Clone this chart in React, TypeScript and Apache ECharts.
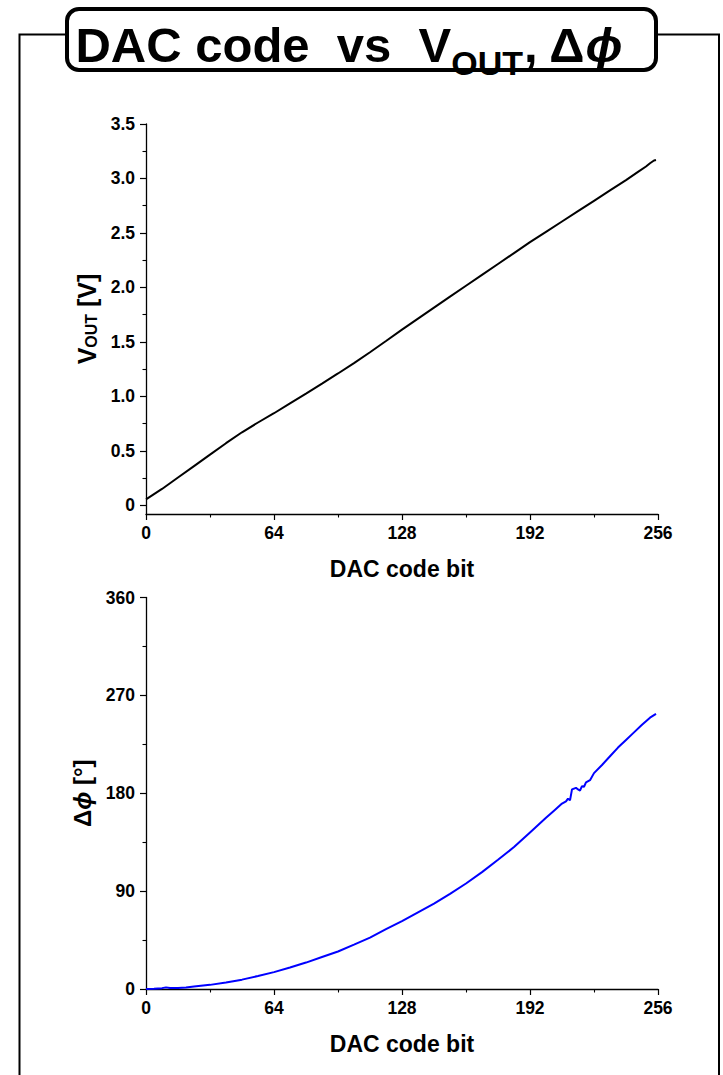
import React, { useEffect, useRef } from 'react';
import * as echarts from 'echarts';

// ---------- data ----------
const xTicks = [0, 64, 128, 192, 256];

const vCodes = [0, 8, 16, 24, 32, 40, 48, 56, 64, 72, 80, 88, 96, 104, 112, 120, 128, 136, 144, 152, 160, 168, 176, 184, 192, 200, 208, 216, 224, 232, 240, 246, 250, 252, 254, 255];
const vValues = [0.055, 0.15, 0.255, 0.36, 0.465, 0.57, 0.67, 0.76, 0.845, 0.935, 1.025, 1.117, 1.21, 1.305, 1.405, 1.508, 1.612, 1.714, 1.815, 1.915, 2.015, 2.115, 2.215, 2.315, 2.415, 2.51, 2.605, 2.7, 2.795, 2.89, 2.985, 3.06, 3.11, 3.14, 3.165, 3.17];
const vTicks = [0, 0.5, 1.0, 1.5, 2.0, 2.5, 3.0, 3.5];
const vMinorTicks = [0.25, 0.75, 1.25, 1.75, 2.25, 2.75, 3.25];

const phiCodes = [0, 4, 8, 10, 12, 16, 20, 24, 32, 40, 48, 56, 64, 72, 80, 88, 96, 104, 112, 120, 128, 136, 144, 152, 160, 168, 176, 184, 192, 200, 204, 208, 210, 211, 212, 213, 215, 216, 217, 218, 219, 220, 222, 224, 228, 232, 236, 240, 244, 248, 252, 255];
const phiValues = [0, 0.3, 0.8, 1.5, 1.0, 1.0, 1.4, 2.2, 3.8, 6.0, 8.6, 12.0, 15.5, 19.8, 24.3, 29.4, 34.5, 40.8, 47.2, 55, 62.5, 70.5, 78.5, 87.5, 97, 107.5, 118.8, 130.5, 144, 157.5, 164, 170.5, 172.5, 175, 173.5, 183.5, 185, 183.5, 182.5, 186.5, 186, 190, 192, 198.5, 206, 214, 222, 229, 236, 243, 249.5, 253];
const phiTicks = [0, 90, 180, 270, 360];

// ---------- styles ----------
const FONT = '"Liberation Sans", Arial, Helvetica, sans-serif';
const BLACK = '#000';

const tickLabel = {
  fontFamily: FONT,
  fontWeight: 'bold' as const,
  fontSize: 17.5,
  color: BLACK,
};

const axisLine = { show: true, onZero: false, lineStyle: { color: BLACK, width: 1.3 } };

function xAxisFor(gridIndex: number) {
  return {
    type: 'value',
    gridIndex,
    min: xTicks[0],
    max: xTicks[xTicks.length - 1],
    interval: xTicks[1] - xTicks[0],
    axisLine,
    axisTick: { show: true, length: 6, lineStyle: { color: BLACK, width: 1.2 } },
    minorTick: { show: true, splitNumber: 2, length: 3.5, lineStyle: { color: BLACK, width: 1.1 } },
    splitLine: { show: false },
    minorSplitLine: { show: false },
    axisLabel: { ...tickLabel, margin: 10 },
    name: 'DAC code bit',
    nameLocation: 'middle',
    nameGap: 43,
    nameTextStyle: { fontFamily: FONT, fontWeight: 'bold', fontSize: 23, color: BLACK },
  };
}

export default function App() {
  const ref = useRef<HTMLDivElement>(null);

  useEffect(() => {
    document.body.style.margin = '0';
    if (!ref.current) return;
    const chart = echarts.init(ref.current, null, { renderer: 'svg' });

    const vData = vCodes.map((c, i) => [c, vValues[i]]);
    const phiData = phiCodes.map((c, i) => [c, phiValues[i]]);

    const option: any = {
      animation: false,
      backgroundColor: '#fff',
      grid: [
        { left: 146, top: 124, width: 512, height: 390, containLabel: false, outerBoundsMode: 'none' },
        { left: 146, top: 597.5, width: 512, height: 391.5, containLabel: false, outerBoundsMode: 'none' },
      ],
      xAxis: [xAxisFor(0), xAxisFor(1)],
      yAxis: [
        {
          type: 'value',
          gridIndex: 0,
          position: 'left',
          min: -0.08,
          max: 3.5,
          axisLine,
          axisTick: { show: true, length: 6, customValues: vTicks, lineStyle: { color: BLACK, width: 1.2 } },
          axisLabel: {
            ...tickLabel,
            margin: 11,
            customValues: vTicks,
            formatter: (v: number) => (v === 0 ? '0' : v.toFixed(1)),
          },
          splitLine: { show: false },
          name: '{a|V}{s|OUT}{a| [V]}',
          nameLocation: 'middle',
          nameGap: 46,
          nameRotate: 90,
          nameTextStyle: {
            rich: {
              a: { fontFamily: FONT, fontWeight: 'bold', fontSize: 25, lineHeight: 25, color: BLACK, verticalAlign: 'top' },
              s: { fontFamily: FONT, fontWeight: 'bold', fontSize: 16, lineHeight: 25, color: BLACK, verticalAlign: 'bottom' },
            },
          },
        },
        {
          type: 'value',
          gridIndex: 0,
          position: 'left',
          offset: 0,
          min: -0.08,
          max: 3.5,
          axisLine: { show: false, onZero: false },
          axisTick: { show: true, length: 3.5, customValues: vMinorTicks, lineStyle: { color: BLACK, width: 1.1 } },
          axisLabel: { show: false },
          splitLine: { show: false },
        },
        {
          type: 'value',
          gridIndex: 1,
          position: 'left',
          min: phiTicks[0],
          max: phiTicks[phiTicks.length - 1],
          interval: phiTicks[1] - phiTicks[0],
          axisLine,
          axisTick: { show: true, length: 6, lineStyle: { color: BLACK, width: 1.2 } },
          minorTick: { show: true, splitNumber: 2, length: 3.5, lineStyle: { color: BLACK, width: 1.1 } },
          splitLine: { show: false },
          minorSplitLine: { show: false },
          axisLabel: { ...tickLabel, margin: 11 },
          name: '{a|Δ}{i|ϕ}{a| [°]}',
          nameLocation: 'middle',
          nameGap: 48,
          nameRotate: 90,
          nameTextStyle: {
            rich: {
              a: { fontFamily: FONT, fontWeight: 'bold', fontSize: 24, lineHeight: 25, color: BLACK },
              i: { fontFamily: FONT, fontWeight: 'bold', fontStyle: 'italic', fontSize: 24, lineHeight: 25, color: BLACK },
            },
          },
        },
      ],
      series: [
        {
          type: 'line',
          xAxisIndex: 0,
          yAxisIndex: 0,
          data: vData,
          showSymbol: false,
          symbol: 'none',
          smooth: false,
          lineStyle: { color: '#000', width: 2 },
          itemStyle: { color: '#000' },
        },
        {
          type: 'line',
          xAxisIndex: 1,
          yAxisIndex: 2,
          data: phiData,
          showSymbol: false,
          symbol: 'none',
          smooth: false,
          lineStyle: { color: '#0000ff', width: 2 },
          itemStyle: { color: '#0000ff' },
        },
      ],
      graphic: [
        {
          type: 'polyline',
          shape: { points: [[66, 34.5], [19.5, 34.5], [19.5, 1080]] },
          style: { stroke: BLACK, lineWidth: 2, fill: null },
          silent: true,
        },
        {
          type: 'polyline',
          shape: { points: [[657, 34.5], [719, 34.5], [719, 1080]] },
          style: { stroke: BLACK, lineWidth: 2, fill: null },
          silent: true,
        },
        {
          type: 'rect',
          shape: { x: 67, y: 9, width: 589, height: 61, r: 12 },
          style: { fill: '#fff', stroke: BLACK, lineWidth: 4 },
          silent: true,
          z: 10,
        },
        {
          type: 'text',
          x: 349,
          y: 50,
          z: 11,
          silent: true,
          style: {
            text: '{a|DAC code  vs  V}{s|OUT}{a|, Δ}{i|ϕ}',
            align: 'center',
            verticalAlign: 'middle',
            textAlign: 'center',
            textVerticalAlign: 'middle',
            rich: {
              a: { fontFamily: FONT, fontWeight: 'bold', fontSize: 49, lineHeight: 49, fill: BLACK, verticalAlign: 'top' },
              s: { fontFamily: FONT, fontWeight: 'bold', fontSize: 34, lineHeight: 59, fill: BLACK, verticalAlign: 'bottom' },
              i: { fontFamily: FONT, fontWeight: 'bold', fontStyle: 'italic', fontSize: 49, lineHeight: 49, fill: BLACK, verticalAlign: 'top' },
            },
          },
        },
      ],
    };

    chart.setOption(option);
    return () => chart.dispose();
  }, []);

  return (
    <div
      ref={ref}
      style={{ position: 'absolute', left: 0, top: 0, width: 723, height: 1075, background: '#fff' }}
    />
  );
}
